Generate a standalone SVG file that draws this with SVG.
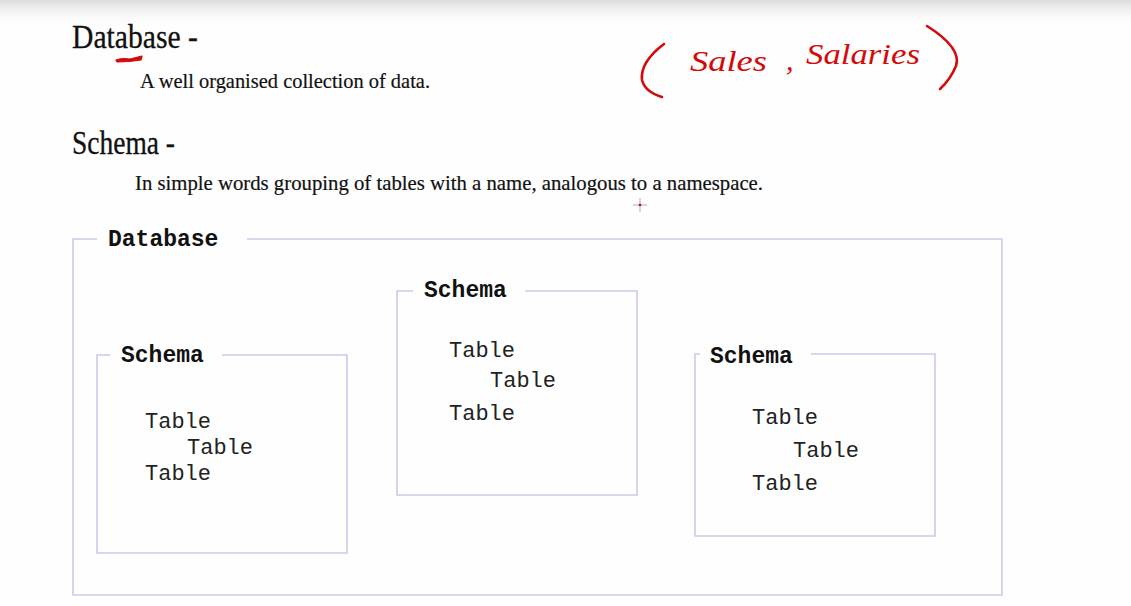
<svg xmlns="http://www.w3.org/2000/svg" width="1131" height="606" viewBox="0 0 1131 606">
  <defs>
    <linearGradient id="topShade" x1="0" y1="0" x2="0" y2="1">
      <stop offset="0" stop-color="#dcdcdc"/>
      <stop offset="1" stop-color="#ffffff" stop-opacity="0"/>
    </linearGradient>
  </defs>
  <style>
    .heading { font-family: "Liberation Serif", "Times New Roman", serif; font-size: 33px; fill: #111; stroke: #111; stroke-width: 0.3; }
    .body { font-family: "Liberation Serif", "Times New Roman", serif; font-size: 21px; fill: #111; stroke: #111; stroke-width: 0.2; }
    .frame { fill: none; stroke: #c9cbec; stroke-width: 1.6; }
    .label { font-family: "Liberation Mono", "Courier New", monospace; font-weight: bold; font-size: 23px; fill: #111; }
    .table { font-family: "Liberation Mono", "Courier New", monospace; font-size: 22px; fill: #222; }
    .ink { fill: #d40a0a; font-family: "Liberation Serif", serif; font-style: italic; }
    .inkline { fill: none; stroke: #d40a0a; stroke-width: 2.6; stroke-linecap: round; stroke-linejoin: round; }
  </style>

  <rect width="1131" height="606" fill="#fefefe"/>
  <rect width="1131" height="28" fill="url(#topShade)"/>

  <!-- definitions -->
  <g id="definitions">
    <text class="heading" x="72" y="48" textLength="126" lengthAdjust="spacingAndGlyphs">Database -</text>
    <text class="body" x="140" y="88" textLength="290" lengthAdjust="spacingAndGlyphs">A well organised collection of data.</text>
    <text class="heading" x="72" y="154" textLength="103" lengthAdjust="spacingAndGlyphs">Schema -</text>
    <text class="body" x="135" y="190" textLength="628" lengthAdjust="spacingAndGlyphs">In simple words grouping of tables with a name, analogous to a namespace.</text>
  </g>

  <!-- red pen annotations -->
  <g id="annotations">
    <path d="M116 60 Q122 58 130 59 L142 56 L141 60 Q130 62 117 62 Z" fill="#d40a0a" stroke="#d40a0a" stroke-width="1.2" stroke-linejoin="round"/>
    <path class="inkline" d="M664 44 Q640 62 642 80 Q645 92 662 97"/>
    <text class="ink" x="690" y="71" font-size="30" textLength="77" lengthAdjust="spacingAndGlyphs">Sales</text>
    <text class="ink" x="786" y="70" font-size="30">,</text>
    <text class="ink" x="806" y="64" font-size="30" textLength="114" lengthAdjust="spacingAndGlyphs">Salaries</text>
    <path class="inkline" d="M927 26 Q962 48 956 66 Q950 80 940 89"/>
    <!-- pointer -->
    <path d="M640 198 V212 M633 205 H647" stroke="#b0b0b0" stroke-width="1"/>
    <circle cx="640" cy="205" r="1.3" fill="#d40a0a"/>
  </g>

  <!-- database frame -->
  <g id="database">
    <path class="frame" d="M97 239 H73 V595 H1002 V239 H247"/>
    <text class="label" x="108" y="246">Database</text>
  </g>

  <g id="schema-left">
    <path class="frame" d="M110 355 H97 V553 H347 V355 H222"/>
    <text class="label" x="121" y="362">Schema</text>
    <text class="table" x="145" y="428">Table</text>
    <text class="table" x="187" y="454">Table</text>
    <text class="table" x="145" y="480">Table</text>
  </g>

  <g id="schema-middle">
    <path class="frame" d="M413 291 H397 V495 H637 V291 H525"/>
    <text class="label" x="424" y="297">Schema</text>
    <text class="table" x="449" y="357">Table</text>
    <text class="table" x="490" y="387">Table</text>
    <text class="table" x="449" y="420">Table</text>
  </g>

  <g id="schema-right">
    <path class="frame" d="M700 354 H695 V536 H935 V354 H811"/>
    <text class="label" x="710" y="363">Schema</text>
    <text class="table" x="752" y="424">Table</text>
    <text class="table" x="793" y="457">Table</text>
    <text class="table" x="752" y="490">Table</text>
  </g>

  <g id="connectors"/>
</svg>
